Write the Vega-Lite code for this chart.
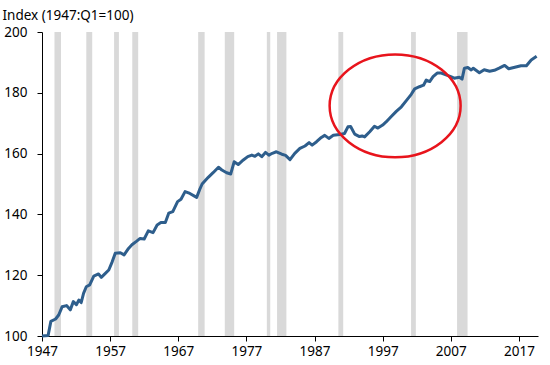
{
  "$schema": "https://vega.github.io/schema/vega-lite/v6.json",
  "width": 496,
  "height": 304,
  "autosize": "none",
  "padding": {"left": 42, "top": 32, "right": 12, "bottom": 29},
  "background": "white",
  "config": {
    "view": {"stroke": null},
    "font": "Noto Sans"
  },
  "datasets": {
    "rec": [
      {"s": 1948.83, "e": 1949.79},
      {"s": 1953.5, "e": 1954.37},
      {"s": 1957.58, "e": 1958.29},
      {"s": 1960.25, "e": 1961.12},
      {"s": 1969.92, "e": 1970.87},
      {"s": 1973.83, "e": 1975.21},
      {"s": 1980.0, "e": 1980.5},
      {"s": 1981.5, "e": 1982.87},
      {"s": 1990.5, "e": 1991.21},
      {"s": 2001.17, "e": 2001.87},
      {"s": 2007.92, "e": 2009.46}
    ],
    "idx": [
      {"t": 1947.0, "v": 100}, {"t": 1947.9, "v": 100.2}, {"t": 1948.3, "v": 104.8}, {"t": 1949.0, "v": 105.6},
      {"t": 1949.45, "v": 106.9}, {"t": 1949.95, "v": 109.6}, {"t": 1950.6, "v": 110}, {"t": 1951.15, "v": 108.6},
      {"t": 1951.6, "v": 111.3}, {"t": 1952.05, "v": 110.3}, {"t": 1952.4, "v": 111.8}, {"t": 1952.75, "v": 111},
      {"t": 1953.1, "v": 114}, {"t": 1953.5, "v": 116.2}, {"t": 1954.0, "v": 116.8}, {"t": 1954.6, "v": 119.7},
      {"t": 1955.3, "v": 120.4}, {"t": 1955.7, "v": 119.3}, {"t": 1956.3, "v": 120.6}, {"t": 1956.8, "v": 121.7},
      {"t": 1957.3, "v": 124.4}, {"t": 1957.75, "v": 127.2}, {"t": 1958.5, "v": 127.4}, {"t": 1959.05, "v": 126.7},
      {"t": 1959.7, "v": 128.8}, {"t": 1960.2, "v": 130}, {"t": 1960.9, "v": 131.2}, {"t": 1961.4, "v": 132.1},
      {"t": 1962.0, "v": 131.9}, {"t": 1962.6, "v": 134.6}, {"t": 1963.3, "v": 134},
      {"t": 1963.9, "v": 136.5}, {"t": 1964.45, "v": 137.3}, {"t": 1965.1, "v": 137.3},
      {"t": 1965.6, "v": 140.4}, {"t": 1966.2, "v": 140.9}, {"t": 1966.9, "v": 144.2}, {"t": 1967.4, "v": 145},
      {"t": 1968.0, "v": 147.5}, {"t": 1968.7, "v": 146.9}, {"t": 1969.7, "v": 145.6}, {"t": 1970.2, "v": 148.5},
      {"t": 1970.5, "v": 150}, {"t": 1970.9, "v": 151}, {"t": 1971.4, "v": 152.2}, {"t": 1972.15, "v": 153.8},
      {"t": 1972.9, "v": 155.5}, {"t": 1973.4, "v": 154.6}, {"t": 1974.1, "v": 153.7}, {"t": 1974.7, "v": 153.3},
      {"t": 1975.2, "v": 157.3}, {"t": 1975.8, "v": 156.4}, {"t": 1976.55, "v": 157.9}, {"t": 1977.2, "v": 159},
      {"t": 1977.8, "v": 159.5}, {"t": 1978.25, "v": 159.1}, {"t": 1978.75, "v": 159.9}, {"t": 1979.25, "v": 159},
      {"t": 1979.8, "v": 160.4}, {"t": 1980.3, "v": 159.5}, {"t": 1980.8, "v": 160.1}, {"t": 1981.4, "v": 160.6},
      {"t": 1982.2, "v": 159.8}, {"t": 1982.75, "v": 159.4}, {"t": 1983.4, "v": 158}, {"t": 1984.1, "v": 160.1},
      {"t": 1984.85, "v": 161.7}, {"t": 1985.6, "v": 162.5}, {"t": 1986.2, "v": 163.6}, {"t": 1986.65, "v": 162.8},
      {"t": 1987.3, "v": 163.9}, {"t": 1988.0, "v": 165.3}, {"t": 1988.5, "v": 166}, {"t": 1989.1, "v": 165},
      {"t": 1989.75, "v": 166}, {"t": 1990.7, "v": 166.3}, {"t": 1991.4, "v": 166.6}, {"t": 1991.9, "v": 168.8},
      {"t": 1992.3, "v": 168.9}, {"t": 1992.9, "v": 166.4}, {"t": 1993.6, "v": 165.6}, {"t": 1994.0, "v": 165.8},
      {"t": 1994.35, "v": 165.5}, {"t": 1995.1, "v": 167.2}, {"t": 1995.8, "v": 169}, {"t": 1996.3, "v": 168.4},
      {"t": 1997.0, "v": 169.4}, {"t": 1997.5, "v": 170.4}, {"t": 1998.3, "v": 172.3}, {"t": 1999.0, "v": 173.9},
      {"t": 1999.75, "v": 175.4}, {"t": 2000.5, "v": 177.5}, {"t": 2001.2, "v": 179.5}, {"t": 2001.7, "v": 181.3},
      {"t": 2002.4, "v": 182}, {"t": 2003.0, "v": 182.5}, {"t": 2003.4, "v": 184.2}, {"t": 2003.9, "v": 183.7},
      {"t": 2004.4, "v": 185.3}, {"t": 2005.0, "v": 186.5}, {"t": 2005.6, "v": 186.5}, {"t": 2006.3, "v": 185.9},
      {"t": 2007.0, "v": 185.3}, {"t": 2007.5, "v": 184.8}, {"t": 2008.25, "v": 185.1}, {"t": 2008.65, "v": 184.5},
      {"t": 2009.0, "v": 188.1}, {"t": 2009.5, "v": 188.3}, {"t": 2010.0, "v": 187.5}, {"t": 2010.3, "v": 188.1},
      {"t": 2011.2, "v": 186.6}, {"t": 2011.9, "v": 187.6}, {"t": 2012.7, "v": 187.1}, {"t": 2013.4, "v": 187.4},
      {"t": 2014.1, "v": 188.1}, {"t": 2014.9, "v": 189}, {"t": 2015.5, "v": 187.9}, {"t": 2016.4, "v": 188.4},
      {"t": 2017.3, "v": 188.9}, {"t": 2018.1, "v": 188.9}, {"t": 2018.8, "v": 190.8}, {"t": 2019.6, "v": 192}
    ],
    "circ": [{"t": 1998.83, "v": 175.7}]
  },
  "layer": [
    {
      "data": {"name": "rec"},
      "mark": {"type": "rect", "color": "#d9d9d9"},
      "encoding": {
        "x": {"field": "s", "type": "quantitative", "scale": {"domain": [1947, 2019.8], "nice": false, "zero": false}},
        "x2": {"field": "e"}
      }
    },
    {
      "data": {"name": "idx"},
      "mark": {"type": "line", "color": "#2e5e8c", "strokeWidth": 3, "strokeJoin": "round"},
      "encoding": {
        "x": {
          "field": "t", "type": "quantitative",
          "scale": {"domain": [1947, 2019.8], "nice": false, "zero": false},
          "axis": {
            "title": null, "values": [1947, 1957, 1967, 1977, 1987, 1997, 2007, 2017], "format": "d",
            "grid": false, "domainColor": "#000000", "tickColor": "#000000", "tickSize": 5,
            "labelFontSize": 13.5, "labelColor": "#000000", "labelPadding": 3, "labelFlush": false
          }
        },
        "y": {
          "field": "v", "type": "quantitative",
          "scale": {"domain": [100, 200], "nice": false, "zero": false},
          "axis": {
            "title": "Index (1947:Q1=100)", "titleAngle": 0, "titleAlign": "left", "titleBaseline": "alphabetic",
            "titleX": -40, "titleY": -13, "titleFontSize": 13.5, "titleFontWeight": "normal", "titleColor": "#000000",
            "values": [100, 120, 140, 160, 180, 200],
            "grid": false, "domainColor": "#000000", "tickColor": "#000000", "tickSize": 5,
            "labelFontSize": 13.5, "labelColor": "#000000", "labelPadding": 10
          }
        }
      }
    },
    {
      "data": {"name": "circ"},
      "mark": {
        "type": "point",
        "shape": "M -1 0 A 1 0.786 0 1 0 1 0 A 1 0.786 0 1 0 -1 0 Z",
        "size": 17161,
        "filled": false,
        "stroke": "#e8141c",
        "strokeWidth": 2.5,
        "opacity": 1
      },
      "encoding": {
        "x": {"field": "t", "type": "quantitative"},
        "y": {"field": "v", "type": "quantitative"}
      }
    }
  ]
}
